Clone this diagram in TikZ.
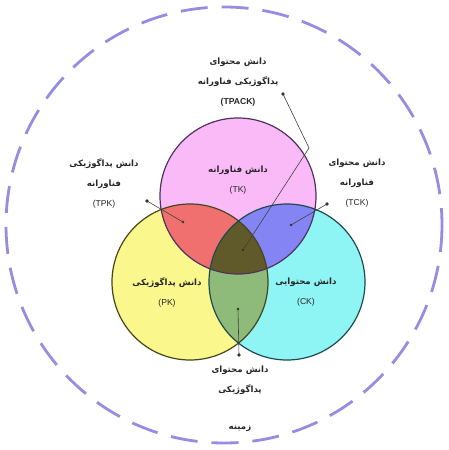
\documentclass[tikz,border=0pt]{standalone}
\usepackage{fontspec}
\setmainfont{Liberation Sans}
\newfontfamily\fa[Script=Arabic]{DejaVu Sans}
\TeXXeTstate=1
\definecolor{tkc}{RGB}{249,186,247}
\definecolor{pkc}{RGB}{250,247,140}
\definecolor{ckc}{RGB}{142,244,244}
\definecolor{tpkc}{RGB}{240,112,112}
\definecolor{tckc}{RGB}{132,132,244}
\definecolor{pckc}{RGB}{142,186,122}
\definecolor{tpckc}{RGB}{96,90,42}
\definecolor{ctxc}{RGB}{150,140,226}
\begin{document}
\begin{tikzpicture}[x=1pt,y=-1pt,
  lbl/.style={align=center,font=\fontsize{8.6}{20}\selectfont,text=black!85,inner sep=0pt},
  ring/.style={line width=1.2pt},
  ptr/.style={line width=0.6pt,draw=black!75},
  dotm/.style={fill=black!80}]
\useasboundingbox (0,0) rectangle (449,450);
\coordinate (T) at (238,196);
\coordinate (L) at (190,282);
\coordinate (R) at (287,282);
\def\rr{78}
% context
\draw[ctxc,line width=2.8pt,dash pattern=on 27pt off 14pt] (224,225) circle (218);
% fills
\fill[tkc] (T) circle (\rr);
\fill[pkc] (L) circle (\rr);
\fill[ckc] (R) circle (\rr);
\begin{scope}\clip (T) circle (\rr); \fill[tpkc] (L) circle (\rr); \end{scope}
\begin{scope}\clip (T) circle (\rr); \fill[tckc] (R) circle (\rr); \end{scope}
\begin{scope}\clip (L) circle (\rr); \fill[pckc] (R) circle (\rr); \end{scope}
\begin{scope}\clip (T) circle (\rr); \clip (L) circle (\rr); \fill[tpckc] (R) circle (\rr); \end{scope}
% outlines
\draw[ring,draw={rgb,255:red,80;green,50;blue,95}] (T) circle (\rr);
\draw[ring,draw={rgb,255:red,70;green,70;blue,30}] (L) circle (\rr);
\draw[ring,draw={rgb,255:red,30;green,75;blue,80}] (R) circle (\rr);
% labels
\node[lbl] (tk) at (238,180) {{\fa\bfseries\beginR دانش فناورانه\endR}\\(TK)};
\node[lbl] (pk) at (167,292) {{\fa\bfseries\beginR دانش پداگوژیکی\endR}\\(PK)};
\node[lbl] (ck) at (306,292) {{\fa\bfseries\beginR دانش محتوایی\endR}\\(CK)};
\node[lbl] (tpk) at (104,183) {{\fa\bfseries\beginR دانش پداگوژیکی\endR}\\{\fa\bfseries\beginR فناورانه\endR}\\(TPK)};
\node[lbl] (tck) at (357,183) {{\fa\bfseries\beginR دانش محتوای\endR}\\{\fa\bfseries\beginR فناورانه\endR}\\(TCK)};
\node[lbl] (tpack) at (238,82) {{\fa\bfseries\beginR دانش محتوای\endR}\\{\fa\bfseries\beginR پداگوژیکی فناورانه\endR}\\\textbf{(TPACK)}};
\node[lbl] (pck) at (240,380) {{\fa\bfseries\beginR دانش محتوای\endR}\\{\fa\bfseries\beginR پداگوژیکی\endR}};
\node[lbl] (ctx) at (240,428) {{\fa\bfseries\beginR زمینه\endR}};
% pointers
\coordinate (tpkA) at (147,201);
\coordinate (tpkB) at (183,222);
\coordinate (tckA) at (327,204);
\coordinate (tckB) at (291,225);
\coordinate (tpackA) at (283,94);
\coordinate (tpackM) at (309,148);
\coordinate (tpackB) at (243,250);
\coordinate (pckA) at (239,355);
\coordinate (pckB) at (238,309);
\draw[ptr] (tpkA) -- (tpkB);
\draw[ptr] (tckA) -- (tckB);
\draw[ptr] (tpackA) -- (tpackM) -- (tpackB);
\draw[ptr] (pckA) -- (pckB);
\foreach \p in {tpkA,tckA,tpackA,pckA} \fill[dotm] (\p) circle (1.8);
\foreach \p in {tpkB,tckB,tpackB,pckB} \fill[dotm] (\p) circle (1.3);
\end{tikzpicture}
\end{document}
